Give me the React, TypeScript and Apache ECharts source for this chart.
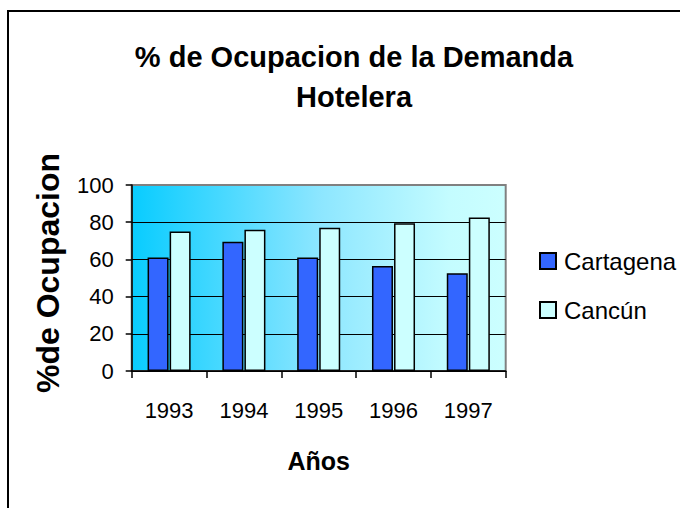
import React, { useEffect, useRef } from "react";
import * as echarts from "echarts";

const categories = ["1993", "1994", "1995", "1996", "1997"];
const cartagena = [61, 69.5, 61, 56.5, 52.5];
const cancun = [75, 76, 77, 79.5, 82.5];
const seriesNames = ["Cartagena", "Cancún"];
const titleText = "% de Ocupacion de la Demanda\nHotelera";
const yName = "%de Ocupacion";
const xName = "Años";

const FONT = "'Liberation Sans', Arial, sans-serif";

export default function App() {
  const ref = useRef<HTMLDivElement>(null);
  useEffect(() => {
    document.body.style.margin = "0";
    if (!ref.current) return;
    const chart = echarts.init(ref.current, null, { renderer: "svg" });
    chart.setOption({
      animation: false,
      backgroundColor: "#ffffff",
      title: {
        text: titleText,
        left: 354,
        top: 37,
        textAlign: "center",
        padding: 0,
        textStyle: {
          fontFamily: FONT,
          fontWeight: "bold",
          fontSize: 29,
          lineHeight: 40,
          color: "#000",
        },
      },
      legend: {
        orient: "vertical",
        left: 534,
        top: 244,
        itemWidth: 16,
        itemHeight: 16,
        itemGap: 25,
        icon: "rect",
        textStyle: {
          fontFamily: FONT,
          fontSize: 24,
          color: "#000",
          padding: [0, 0, 0, 3],
        },
        data: seriesNames,
      },
      grid: {
        left: 131.7,
        right: 174.3,
        top: 185,
        bottom: 137,
        show: true,
        borderColor: "#808080",
        borderWidth: 2,
        backgroundColor: new echarts.graphic.LinearGradient(0, 0, 1, 0, [
          { offset: 0, color: "#08ccff" },
          { offset: 0.5, color: "#8ce6ff" },
          { offset: 0.85, color: "#c4fcff" },
          { offset: 1, color: "#ccffff" },
        ]),
      },
      xAxis: {
        type: "category",
        data: categories,
        boundaryGap: true,
        name: xName,
        nameLocation: "middle",
        nameGap: 77,
        nameTextStyle: {
          fontFamily: FONT,
          fontWeight: "bold",
          fontSize: 25,
          color: "#000",
        },
        axisLine: { show: true, lineStyle: { color: "#000", width: 1.5 } },
        axisTick: { show: true, length: 7, lineStyle: { color: "#000", width: 1.5 } },
        axisLabel: {
          interval: 0,
          fontFamily: FONT,
          fontSize: 22,
          color: "#000",
          margin: 28,
        },
        splitLine: { show: false },
      },
      yAxis: {
        type: "value",
        min: 0,
        max: 100,
        interval: 20,
        name: yName,
        nameLocation: "middle",
        nameGap: 68,
        nameRotate: 90,
        nameTextStyle: {
          fontFamily: FONT,
          fontWeight: "bold",
          fontSize: 32,
          color: "#000",
          padding: [0, 0, 0, 10],
        },
        axisLine: { show: true, lineStyle: { color: "#000", width: 1.5 } },
        axisTick: { show: true, length: 6, lineStyle: { color: "#000", width: 1.5 } },
        axisLabel: {
          fontFamily: FONT,
          fontSize: 22,
          color: "#000",
          margin: 18,
        },
        splitLine: {
          show: true,
          lineStyle: {
            color: ["#000", "#000", "#000", "#000", "#000", "#808080"],
            width: 1.2,
          },
        },
      },
      series: [
        {
          name: seriesNames[0],
          type: "bar",
          data: cartagena,
          barWidth: 21,
          barGap: "5%",
          itemStyle: { color: "#3366ff", borderColor: "#000", borderWidth: 1.5 },
        },
        {
          name: seriesNames[1],
          type: "bar",
          data: cancun,
          barWidth: 21,
          barGap: "5%",
          itemStyle: { color: "#ccffff", borderColor: "#000", borderWidth: 1.5 },
        },
      ],
      graphic: [
        {
          type: "rect",
          shape: { x: 8, y: 11, width: 720, height: 600 },
          style: { fill: "transparent", stroke: "#000", lineWidth: 2 },
          silent: true,
        },
      ],
    });
    return () => chart.dispose();
  }, []);
  return <div ref={ref} style={{ width: 680, height: 508 }} />;
}
